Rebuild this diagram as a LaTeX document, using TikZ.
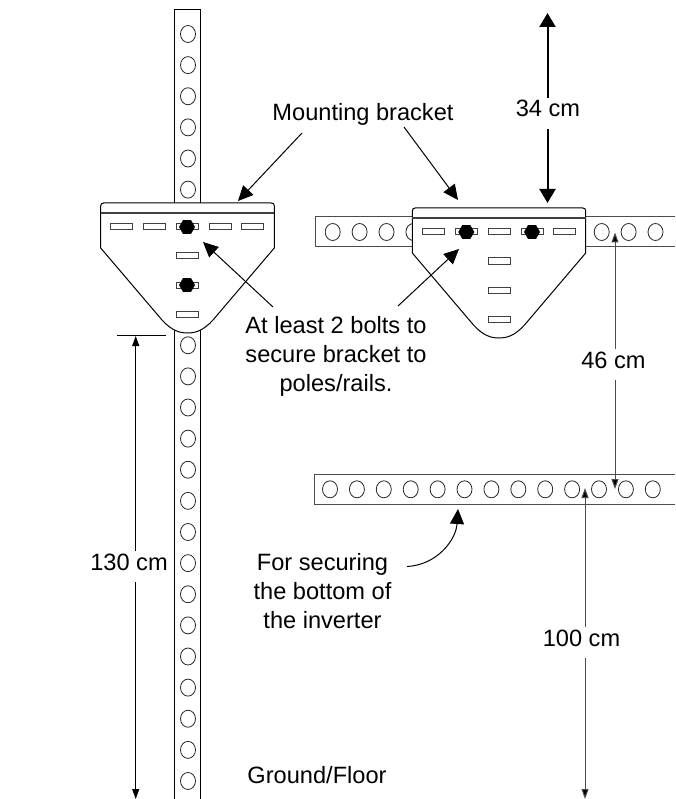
\documentclass[tikz,border=0pt]{standalone}
\usepackage{fontspec}
\setmainfont{Liberation Sans}
\usetikzlibrary{arrows.meta,shapes.geometric}
\tikzset{
  hole/.style={draw=black!85,line width=0.8pt},
  slot/.style={draw=black!75,fill=white,line width=1pt,minimum width=22pt,minimum height=6pt,inner sep=0pt,rectangle},
  bolt/.style={regular polygon,regular polygon sides=6,fill=black,inner sep=0pt,minimum size=16pt},
  label/.style={font=\fontsize{23.6}{29}\selectfont,align=center,inner sep=1pt},
  dimlabel/.style={label,fill=white,anchor=base,inner xsep=1pt,inner ysep=0pt,text height=19pt,text depth=12pt},
  callout/.style={line width=1pt,-{Triangle[length=15pt,width=14pt]}},
  dimline/.style={draw=black!70,line width=1pt},
  dimtip/.style={{Triangle[length=10pt,width=7pt,fill=black]}-{Triangle[length=10pt,width=7pt,fill=black]}},
}
\begin{document}
\begin{tikzpicture}[x=1pt,y=-1pt]
\useasboundingbox (0,0) rectangle (675,799);
% upright pole
\draw[line width=1pt] (174.5,799) -- (174.5,9.5) -- (200.5,9.5) -- (200.5,799);
\foreach \k in {0,...,24}
  \draw[hole] (188,34+31.125*\k) ellipse [x radius=7.5,y radius=8.5];
% upper rail
\draw[draw=black!70,line width=1pt] (675,216.5) -- (315.5,216.5) -- (315.5,246.5) -- (675,246.5);
\foreach \k in {0,...,12}
  \draw[hole] (332.7+26.9*\k,232) ellipse [x radius=7.5,y radius=8.5];
% lower rail
\draw[draw=black!70,line width=1pt] (675,474.5) -- (314,474.5) -- (314,504) -- (675,504);
\foreach \k in {0,...,12}
  \draw[hole] (330+26.9*\k,489.3) ellipse [x radius=7.5,y radius=8.5];
% left bracket
\draw[fill=white,line width=1pt] (100.7,248) -- (100.7,206) .. controls (100.7,204) and (101.7,203) .. (103.7,203) -- (271.3,203)
  .. controls (273.3,203) and (274.3,204) .. (274.3,206) -- (274.3,248) -- (213,320) .. controls (203,331) and (195,333) .. (187.5,333)
  .. controls (180,333) and (172,331) .. (162,320) -- cycle;
\draw[draw=black!75,line width=2.2pt] (100.7,213) -- (274.3,213);
\foreach \n/\x in {a/121.7,b/154.3,c/187,d/220,e/252.7}
  \node[slot] (lslot\n) at (\x,227) {};
\node[slot] (lslotf) at (187,256) {};
\node[slot] (lslotg) at (187,285) {};
\node[slot] (lsloth) at (187,314) {};
\node[bolt] (lbolta) at (187,227) {};
\node[bolt] (lboltb) at (187,285) {};
% right bracket
\draw[fill=white,line width=1pt] (412.3,253) -- (412.3,211) .. controls (412.3,209) and (413.3,208) .. (415.3,208) -- (582.7,208)
  .. controls (584.7,208) and (585.7,209) .. (585.7,211) -- (585.7,253) -- (524.5,325) .. controls (514.5,336) and (506.5,338) .. (499,338)
  .. controls (491.5,338) and (483.5,336) .. (473.5,325) -- cycle;
\draw[draw=black!75,line width=2.2pt] (412.3,218) -- (585.7,218);
\foreach \n/\x in {a/433.7,b/466.3,c/499.3,d/532,e/564.7}
  \node[slot] (rslot\n) at (\x,232) {};
\node[slot] (rslotf) at (499.3,261) {};
\node[slot] (rslotg) at (499.3,290) {};
\node[slot] (rsloth) at (499.3,319) {};
\node[bolt] (rbolta) at (466.3,232) {};
\node[bolt] (rboltb) at (532,232) {};
% labels
\node[label] (mount) at (363,114) {Mounting bracket};
\node[label] (bolts) at (336,356) {At least 2 bolts to\\secure bracket to\\poles/rails.};
\node[label] (secure) at (322.5,591) {For securing\\the bottom of\\the inverter};
\node[label] (floor) at (317,775) {Ground/Floor};
% callouts
\coordinate (mountl) at (302,133);
\coordinate (mounttipl) at (238,201);
\coordinate (mountr) at (404,127);
\coordinate (mounttipr) at (458,200);
\coordinate (boltl) at (273,307);
\coordinate (bolttipl) at (203,242);
\coordinate (boltr) at (398,306);
\coordinate (bolttipr) at (459,249);
\coordinate (curvest) at (407,566.5);
\coordinate (curvetip) at (458,509);
\draw[callout] (mountl) -- (mounttipl);
\draw[callout] (mountr) -- (mounttipr);
\draw[callout] (boltl) -- (bolttipl);
\draw[callout] (boltr) -- (bolttipr);
\draw[callout] (curvest) .. controls (437,565) and (456,540) .. (curvetip);
% dimensions
\coordinate (topa) at (547.5,13);
\coordinate (topb) at (547.5,203);
\draw[line width=2pt,{Triangle[length=14pt,width=16pt]}-{Triangle[length=14pt,width=16pt]}] (topa) -- (topb);
\node[dimlabel] (dimtop) at (548,117) {34 cm};
\coordinate (mida) at (615,232.5);
\coordinate (midb) at (615,489);
\draw[dimline,dimtip] (mida) -- (midb);
\node[dimlabel] (dimmid) at (613.5,368) {46 cm};
\coordinate (lowa) at (585,488);
\coordinate (lowb) at (585,799);
\draw[dimline,dimtip] (lowa) -- (lowb);
\node[dimlabel] (dimlow) at (581.5,646) {100 cm};
\coordinate (ticka) at (117,335);
\coordinate (tickb) at (166,335);
\draw[line width=1pt] (ticka) -- (tickb);
\coordinate (polea) at (135.7,336);
\coordinate (poleb) at (135.7,799);
\draw[line width=1pt,{Triangle[length=10pt,width=7pt]}-{Triangle[length=10pt,width=7pt]}] (polea) -- (poleb);
\node[dimlabel] (dimpole) at (129,570) {130 cm};
\end{tikzpicture}
\end{document}
